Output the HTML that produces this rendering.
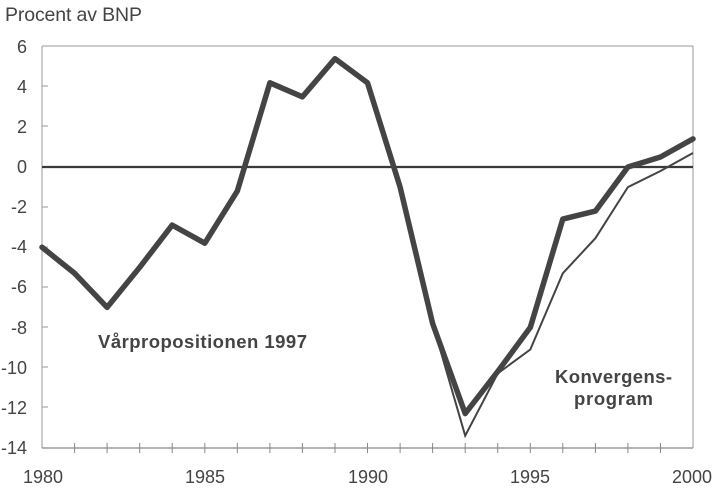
<!DOCTYPE html>
<html><head><meta charset="utf-8"><style>
html,body{margin:0;padding:0;background:#fff;}
svg{display:block;}
text{font-family:"Liberation Sans",Arial,sans-serif;fill:#444;}
</style></head><body>
<svg width="714" height="488" viewBox="0 0 714 488" xmlns="http://www.w3.org/2000/svg">
<text x="5" y="21" font-size="19.5" textLength="137">Procent av BNP</text>
<line x1="42" y1="46" x2="693" y2="46" stroke="#999" stroke-width="1"/>
<line x1="42" y1="46" x2="42" y2="448" stroke="#999" stroke-width="1"/>
<line x1="693" y1="46" x2="693" y2="448" stroke="#999" stroke-width="1"/>
<line x1="42" y1="448" x2="693" y2="448" stroke="#888" stroke-width="1.2"/>
<g stroke="#999" stroke-width="1">
<line x1="42" y1="86" x2="48" y2="86"/><line x1="42" y1="126" x2="48" y2="126"/>
<line x1="42" y1="207" x2="48" y2="207"/><line x1="42" y1="247" x2="48" y2="247"/>
<line x1="42" y1="287" x2="48" y2="287"/><line x1="42" y1="327" x2="48" y2="327"/>
<line x1="42" y1="367" x2="48" y2="367"/><line x1="42" y1="407" x2="48" y2="407"/>
</g>
<g font-size="18" text-anchor="end">
<text x="27" y="53">6</text><text x="27" y="93">4</text><text x="27" y="133">2</text>
<text x="27" y="173">0</text><text x="27" y="213">-2</text><text x="27" y="253">-4</text>
<text x="27" y="293">-6</text><text x="27" y="334">-8</text><text x="27" y="374">-10</text>
<text x="27" y="414">-12</text><text x="27" y="454">-14</text>
</g>
<g stroke="#888" stroke-width="1">
<line x1="74.6" y1="443" x2="74.6" y2="453"/><line x1="107.1" y1="443" x2="107.1" y2="453"/>
<line x1="139.7" y1="443" x2="139.7" y2="453"/><line x1="172.2" y1="443" x2="172.2" y2="453"/>
<line x1="204.8" y1="443" x2="204.8" y2="453"/><line x1="237.3" y1="443" x2="237.3" y2="453"/>
<line x1="269.9" y1="443" x2="269.9" y2="453"/><line x1="302.4" y1="443" x2="302.4" y2="453"/>
<line x1="335" y1="443" x2="335" y2="453"/><line x1="367.5" y1="443" x2="367.5" y2="453"/>
<line x1="400.1" y1="443" x2="400.1" y2="453"/><line x1="432.6" y1="443" x2="432.6" y2="453"/>
<line x1="465.2" y1="443" x2="465.2" y2="453"/><line x1="497.7" y1="443" x2="497.7" y2="453"/>
<line x1="530.3" y1="443" x2="530.3" y2="453"/><line x1="562.8" y1="443" x2="562.8" y2="453"/>
<line x1="595.4" y1="443" x2="595.4" y2="453"/><line x1="627.9" y1="443" x2="627.9" y2="453"/>
<line x1="660.5" y1="443" x2="660.5" y2="453"/>
</g>
<g font-size="18" text-anchor="middle">
<text x="43" y="483">1980</text><text x="205" y="483">1985</text><text x="368" y="483">1990</text>
<text x="530" y="483">1995</text><text x="692" y="483">2000</text>
</g>
<line x1="42" y1="167" x2="693" y2="167" stroke="#3a3a3a" stroke-width="2.2"/>
<polyline fill="none" stroke="#444" stroke-width="2" stroke-linejoin="miter"
points="432.6,323.4 465.2,435.7 497.7,373.5 530.3,349.5 562.8,273.3 595.4,238.2 627.9,187.1 660.5,171 693,153"/>
<polyline fill="none" stroke="#444" stroke-width="5.5" stroke-linejoin="round" stroke-linecap="round"
points="42,247.2 74.6,273.3 107.1,307.4 139.7,267.3 172.2,225.1 204.8,243.2 237.3,191.1 269.9,82.8 302.4,96.8 335,58.7 367.5,82.8 400.1,187.1 432.6,323.4 465.2,413.6 497.7,371.5 530.3,327.4 562.8,219.1 595.4,211.1 627.9,167 660.5,157 693,138.9"/>
<g font-size="18.5" font-weight="bold">
<text x="98" y="348" textLength="209">Vårpropositionen 1997</text>
<text x="555" y="383" textLength="117">Konvergens-</text>
<text x="574" y="405" textLength="79">program</text>
</g>
</svg>
</body></html>
